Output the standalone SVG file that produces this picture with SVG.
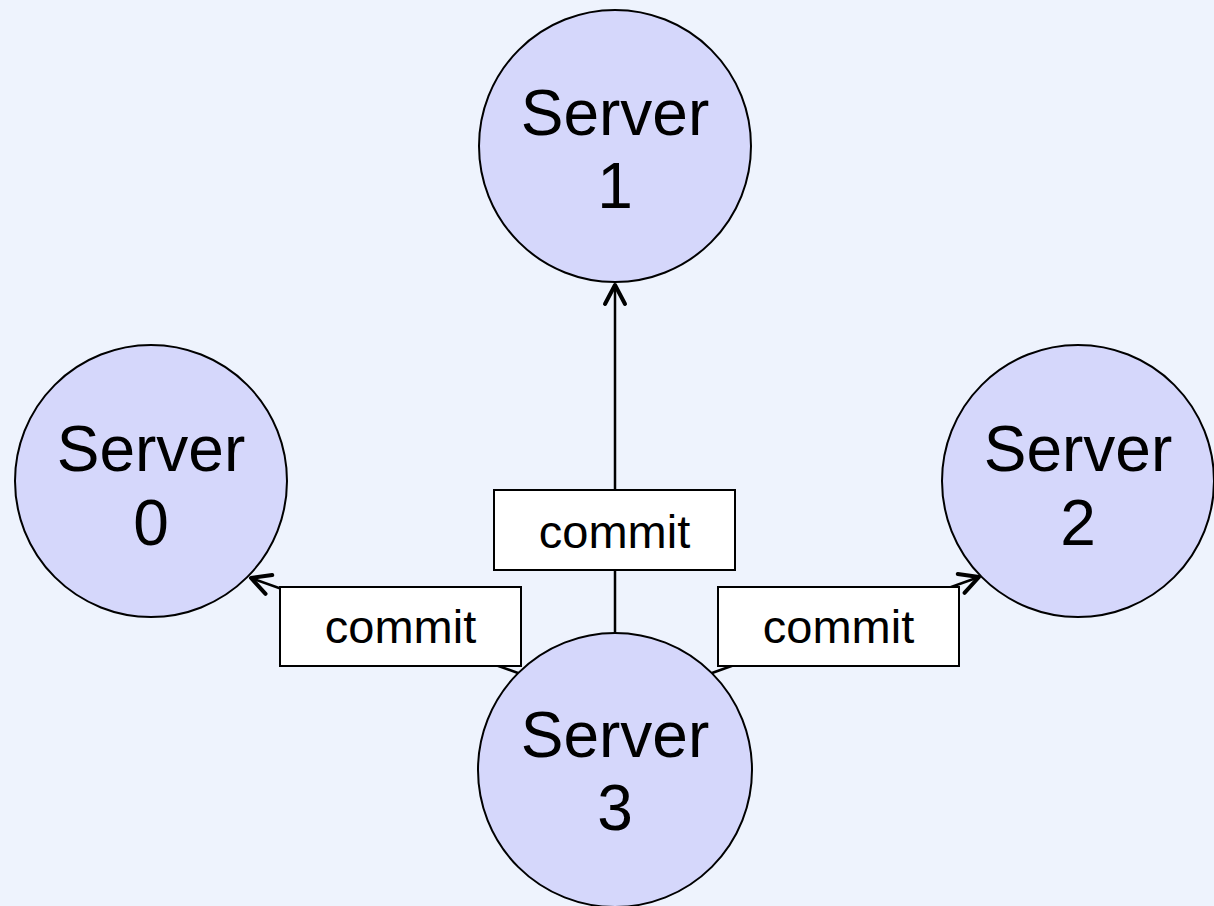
<svg xmlns="http://www.w3.org/2000/svg" width="1214" height="906" viewBox="0 0 1214 906">
  <style>
    .srv circle { fill: #d5d7fb; stroke: #000; stroke-width: 2; }
    .srv text { font-family: "Liberation Sans", Arial, sans-serif; font-size: 64px; fill: #000; text-anchor: middle; }
    .edge { stroke: #000; stroke-width: 2.5; fill: none; }
    .lbl rect { fill: #fff; stroke: #000; stroke-width: 2; }
    .lbl text { font-family: "Liberation Sans", Arial, sans-serif; font-size: 47px; fill: #000; text-anchor: middle; }
  </style>
  <defs>
    <!-- open chevron arrowhead, tip at the line end -->
    <marker id="arrow" viewBox="-24 -14 28 28" refX="0" refY="0" markerWidth="28" markerHeight="28" markerUnits="userSpaceOnUse" orient="auto" overflow="visible">
      <path d="M-19,-10 L0,0 L-19,10" fill="none" stroke="#000" stroke-width="4" stroke-linecap="round" stroke-linejoin="round"/>
    </marker>
  </defs>

  <rect width="1214" height="906" fill="#eef3fd"/>

  <!-- connectors from Server 3 -->
  <g id="connectors">
    <line class="edge" x1="615" y1="633" x2="615" y2="285" marker-end="url(#arrow)"/>
    <line class="edge" x1="518" y1="673" x2="251" y2="578" marker-end="url(#arrow)"/>
    <line class="edge" x1="712" y1="673" x2="979" y2="577" marker-end="url(#arrow)"/>
    <g class="lbl" id="label-1">
      <rect x="494" y="490" width="241" height="80"/>
      <text x="614.5" y="548">commit</text>
    </g>
    <g class="lbl" id="label-0">
      <rect x="280" y="587" width="241" height="79"/>
      <text x="400.5" y="643">commit</text>
    </g>
    <g class="lbl" id="label-2">
      <rect x="718" y="587" width="241" height="79"/>
      <text x="838.5" y="643">commit</text>
    </g>
  </g>

  <g class="srv" id="server-1">
    <circle cx="615" cy="146" r="136"/>
    <text x="615" y="135">Server</text>
    <text x="615" y="208">1</text>
  </g>
  <g class="srv" id="server-0">
    <circle cx="151" cy="481" r="136"/>
    <text x="151" y="471">Server</text>
    <text x="151" y="545">0</text>
  </g>
  <g class="srv" id="server-2">
    <circle cx="1078" cy="481" r="136"/>
    <text x="1078" y="471">Server</text>
    <text x="1078" y="545">2</text>
  </g>
  <g class="srv" id="server-3">
    <circle cx="615" cy="770" r="137"/>
    <text x="615" y="757">Server</text>
    <text x="615" y="830">3</text>
  </g>
</svg>
